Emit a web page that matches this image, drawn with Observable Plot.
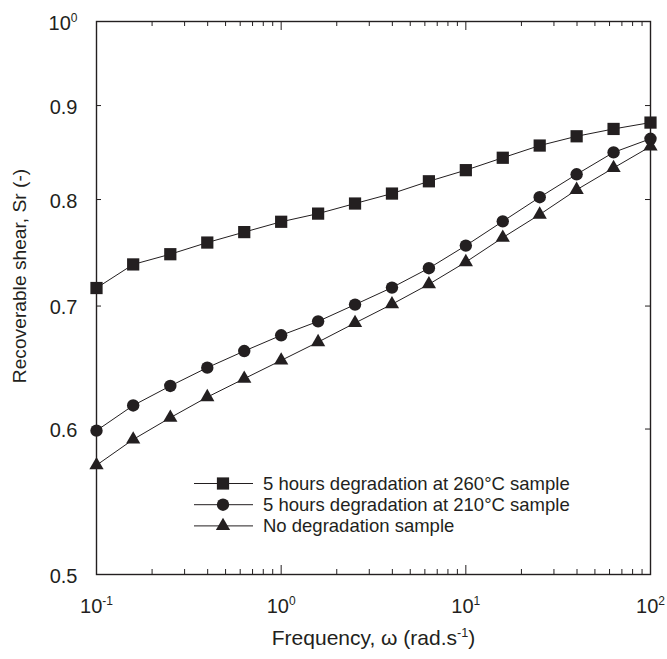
<!DOCTYPE html>
<html>
<head>
<meta charset="utf-8">
<script src="https://cdn.jsdelivr.net/npm/d3@7"></script>
<script src="https://cdn.jsdelivr.net/npm/@observablehq/plot@0.6"></script>
<style>
  body { margin: 0; background: #fff; }
  svg { display: block; }
</style>
</head>
<body>
<div id="chart"></div>
<script>
// ---- data ----
const frequency = [0.1, 0.158, 0.251, 0.398, 0.631, 1, 1.585, 2.512, 3.981, 6.31, 10, 15.85, 25.12, 39.81, 63.1, 100];
const sr260 = [0.716, 0.7375, 0.747, 0.758, 0.768, 0.778, 0.786, 0.796, 0.806, 0.8185, 0.830, 0.843, 0.856, 0.866, 0.874, 0.881];
const sr210 = [0.5988, 0.618, 0.6333, 0.648, 0.6616, 0.6748, 0.6867, 0.7013, 0.7164, 0.734, 0.7551, 0.7784, 0.8023, 0.8257, 0.8487, 0.8633];
const sr0 = [0.5734, 0.5922, 0.6086, 0.6245, 0.6391, 0.6539, 0.6691, 0.6853, 0.7016, 0.7194, 0.7397, 0.7627, 0.7851, 0.8098, 0.8323, 0.855];
const seriesNames = [
  "5 hours degradation at 260°C sample",
  "5 hours degradation at 210°C sample",
  "No degradation sample"
];
const seriesSymbols = ["square", "circle", "triangle"];
const xMajorTicks = [0.1, 1, 10, 100];
const xMinorTicks = [0.2, 0.3, 0.4, 0.5, 0.6, 0.7, 0.8, 0.9, 2, 3, 4, 5, 6, 7, 8, 9, 20, 30, 40, 50, 60, 70, 80, 90];
const xTickLabels = ["10^{-1}", "10^{0}", "10^{1}", "10^{2}"];
const yTicks = [0.5, 0.6, 0.7, 0.8, 0.9, 1];
const yTickLabels = ["0.5", "0.6", "0.7", "0.8", "0.9", "10^{0}"];
const xTitle = "Frequency, ω (rad.s^{-1})";
const yTitle = "Recoverable shear, Sr (-)";

// ---- styles ----
const ink = "#231f20";
const symbolR = {square: 6.9, circle: 6.2, triangle: 5.3};
const W = 667, H = 659;
const mL = 96, mR = 17, mT = 21, mB = 85;
const plotW = W - mL - mR, plotH = H - mT - mB;
const majorLen = 9, minorLen = 5, yTickLen = 5;

const values = [sr260, sr210, sr0];
const table = seriesNames.flatMap((name, s) =>
  frequency.map((f, i) => ({series: name, frequency: f, sr: values[s][i]}))
);

const seriesMarks = seriesNames.flatMap((name, s) => {
  const rows = table.filter(d => d.series === name);
  return [
    Plot.line(rows, {x: "frequency", y: "sr", stroke: ink, strokeWidth: 1}),
    Plot.dot(rows, {x: "frequency", y: "sr", symbol: seriesSymbols[s], r: symbolR[seriesSymbols[s]], fill: ink, stroke: "none"})
  ];
});

const chart = Plot.plot({
  width: W,
  height: H,
  marginLeft: mL,
  marginRight: mR,
  marginTop: mT,
  marginBottom: mB,
  style: {fontFamily: "'Liberation Sans', Arial, sans-serif", fontSize: "20px", color: ink, background: "#fff"},
  x: {type: "log", domain: [0.1, 100], axis: null},
  y: {type: "log", domain: [0.5, 1], axis: null},
  marks: [
    // inward ticks, bottom and top
    Plot.tickX(xMajorTicks, {x: d => d, stroke: ink, strokeWidth: 1, insetTop: plotH - majorLen}),
    Plot.tickX(xMinorTicks, {x: d => d, stroke: ink, strokeWidth: 1, insetTop: plotH - minorLen}),
    Plot.tickX(xMajorTicks, {x: d => d, stroke: ink, strokeWidth: 1, insetBottom: plotH - majorLen}),
    Plot.tickX(xMinorTicks, {x: d => d, stroke: ink, strokeWidth: 1, insetBottom: plotH - minorLen}),
    // inward ticks, left and right
    Plot.tickY(yTicks, {y: d => d, stroke: ink, strokeWidth: 1, insetRight: plotW - yTickLen}),
    Plot.tickY(yTicks, {y: d => d, stroke: ink, strokeWidth: 1, insetLeft: plotW - yTickLen}),
    // tick labels
    Plot.text(xMajorTicks, {x: d => d, text: (d, i) => xTickLabels[i], frameAnchor: "bottom", lineAnchor: "middle", textAnchor: "middle", dy: 32, fontSize: 20, fill: ink}),
    Plot.text(yTicks, {y: d => d, text: (d, i) => yTickLabels[i], frameAnchor: "left", lineAnchor: "middle", textAnchor: "end", dx: -19, dy: 2, fontSize: 20, fill: ink}),
    // axis titles
    Plot.text([xTitle], {text: d => d, frameAnchor: "bottom", lineAnchor: "middle", textAnchor: "middle", dy: 64, fontSize: 21, fill: ink}),
    Plot.text([yTitle], {text: d => d, frameAnchor: "left", textAnchor: "middle", rotate: -90, dx: -77, dy: -22, fontSize: 19.2, fill: ink}),
    ...seriesMarks,
    Plot.frame({stroke: ink, strokeWidth: 1.4})
  ]
});

document.getElementById("chart").appendChild(chart);

// superscripts as tspans
const NS = "http://www.w3.org/2000/svg";
chart.querySelectorAll("text").forEach(el => {
  const s = el.textContent;
  if (!s.includes("^{")) return;
  const parts = s.split(/(\^\{[^}]*\})/);
  el.textContent = "";
  let raised = false;
  for (const p of parts) {
    if (!p) continue;
    const t = document.createElementNS(NS, "tspan");
    if (p.startsWith("^{")) {
      t.textContent = p.slice(2, -1);
      t.setAttribute("font-size", "0.6em");
      t.setAttribute("dy", "-8");
      raised = true;
    } else {
      t.textContent = p;
      if (raised) { t.setAttribute("dy", "8"); raised = false; }
    }
    el.appendChild(t);
  }
});

// legend inside the plot
const legendX0 = 194, legendX1 = 253, legendMarkX = 223, legendTextX = 263;
const legendY0 = 483.5, legendRow = 21.2;
const symbolTypes = {square: d3.symbolSquare, circle: d3.symbolCircle, triangle: d3.symbolTriangle};
const lg = d3.select(chart).append("g")
  .attr("font-family", "'Liberation Sans', Arial, sans-serif")
  .attr("font-size", 18.5)
  .attr("text-anchor", "start")
  .attr("fill", ink);
seriesNames.forEach((name, i) => {
  const y = legendY0 + i * legendRow;
  lg.append("line").attr("x1", legendX0).attr("x2", legendX1).attr("y1", y).attr("y2", y)
    .attr("stroke", ink).attr("stroke-width", 1);
  const r = symbolR[seriesSymbols[i]];
  lg.append("path")
    .attr("d", d3.symbol(symbolTypes[seriesSymbols[i]], Math.PI * r * r)())
    .attr("transform", `translate(${legendMarkX},${y})`)
    .attr("fill", ink);
  lg.append("text").attr("x", legendTextX).attr("y", y).attr("dy", "0.35em")
    .attr("text-anchor", "start").text(name);
});
</script>
</body>
</html>
